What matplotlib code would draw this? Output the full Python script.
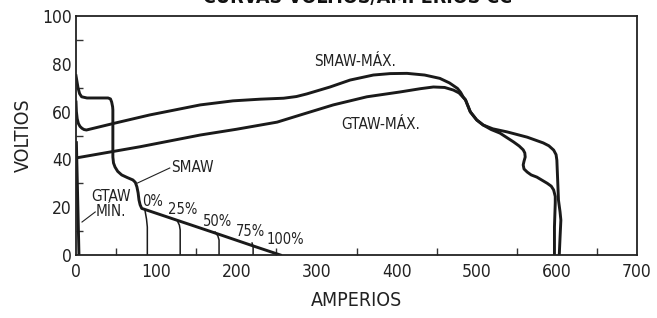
import matplotlib
matplotlib.use("Agg")
import matplotlib.pyplot as plt

plt.rcParams['font.family'] = ['DejaVu Sans']
plt.rcParams['font.stretch'] = 'condensed'

# curva SMAW (minimo): tension en vacio y caida
smaw_a = [0, 1, 2.5, 4.5, 7, 13.7, 40, 43, 44.5, 45.7, 46, 46, 46.8, 48.7, 52, 57, 64, 71, 74, 76, 77.5, 78.6, 80, 82,
          130, 178, 221, 255]
smaw_v = [75, 73, 70, 67.5, 66.2, 65.7, 65.7, 65.3, 64, 62, 60.7, 41, 38.5, 36.8, 35, 33.5, 32.4, 31.4, 30.4, 28.5, 26,
          23, 21, 19.5, 14.1, 8.7, 3.8, 0]

# SMAW maximo
smaw_max_a = [0, 0.5, 1.5, 3, 5, 7.5, 10, 13, 50, 92, 155, 196, 230, 259, 275, 288, 300, 317, 342, 371, 392, 413, 435,
              454, 466, 476, 480, 483, 486, 492, 500, 508, 520, 538, 563, 583, 590, 596, 599, 600, 601, 602, 604, 605,
              604, 603]
smaw_max_v = [64, 60, 57, 55, 53.8, 53, 52.5, 52.3, 55.3, 58.6, 62.8, 64.5, 65.2, 65.6, 66.3, 67.4, 68.6, 70.3, 73.2,
              75.3, 75.9, 76, 75.3, 73.9, 72, 69.7, 68, 66.2, 64.9, 59.9, 56.5, 54.4, 52.8, 51.5, 49.3, 46.9, 45.7, 43.9,
              42, 39.7, 31.4, 23, 18, 14.6, 7.5, 0]

# GTAW maximo
gtaw_max_a = [0, 80, 155, 200, 251, 280, 321, 363, 404, 430, 446, 460, 471, 478, 483, 486, 492, 500, 508, 518, 529, 546,
              553, 558, 560, 560.5, 559, 558, 559, 563, 568, 575, 588, 593, 596, 598, 598, 597, 597]
gtaw_max_v = [40.6, 45.3, 50.2, 52.6, 55.6, 58.6, 62.8, 66.2, 68.2, 69.6, 70.3, 70.1, 69, 67.8, 66, 64.9, 59.9, 56.5,
              54.4, 52.5, 51, 47.3, 45.6, 44, 42.7, 41, 39.2, 37.7, 36, 34.7, 33.5, 32.6, 30, 28.8, 27.2, 24.5, 21.8,
              11.7, 0]

# GTAW minimo
gtaw_min_a = [0.5, 3.7]
gtaw_min_v = [47, 0]

# lineas de ciclo de trabajo
ciclo_a = [[86, 88, 89, 89], [126, 129, 130, 130], [173.5, 177, 178.5, 178.5], [219.7, 221, 221]]
ciclo_v = [[18.8, 15, 11.7, 0], [14.6, 12.5, 10.5, 0], [9.6, 8, 6.3, 0], [5, 3.5, 0]]
ciclo_txt = ['0%', '25%', '50%', '75%', '100%']
ciclo_txt_a = [95, 133, 176.6, 218, 261]
ciclo_txt_v = [22.2, 19.2, 14.2, 10, 6.3]

fig = plt.figure(figsize=(6.57, 3.18), dpi=100)
ax = fig.add_axes([76/657, 1-255/318, 561/657, 239/318])

lw = 2.1
c = '#1a1a1a'
ax.plot(smaw_a, smaw_v, color=c, lw=lw, solid_joinstyle='round')
ax.plot(smaw_max_a, smaw_max_v, color=c, lw=lw, solid_joinstyle='round')
ax.plot(gtaw_max_a, gtaw_max_v, color=c, lw=lw, solid_joinstyle='round')
ax.plot(gtaw_min_a, gtaw_min_v, color=c, lw=lw)
for xa, yv in zip(ciclo_a, ciclo_v):
    ax.plot(xa, yv, color=c, lw=1.1)

for t, xa, yv in zip(ciclo_txt, ciclo_txt_a, ciclo_txt_v):
    ax.text(xa, yv, t, fontsize=10.5, ha='center', va='center', color='#222222')

ax.text(348, 80.8, 'SMAW-MÁX.', fontsize=11, ha='center', va='center', color='#222222')
ax.text(380, 54.4, 'GTAW-MÁX.', fontsize=11, ha='center', va='center', color='#222222')
ax.text(145.5, 36.6, 'SMAW', fontsize=11, ha='center', va='center', color='#222222')
ax.text(43.7, 21.3, 'GTAW\nMÍN.', fontsize=11, ha='center', va='center', color='#222222', linespacing=0.95)
# lineas guia
ax.plot([76, 117], [30, 36.4], color='#222222', lw=0.8)
ax.plot([7.5, 24], [13.8, 18], color='#222222', lw=0.8)

ax.set_xlim(0, 700)
ax.set_ylim(0, 100)
ax.set_xticks(range(0, 701, 100))
ax.set_yticks(range(0, 101, 20))
ax.set_xticks(range(50, 700, 100), minor=True)
ax.set_yticks(range(10, 100, 20), minor=True)
ax.tick_params(which='major', length=0, labelsize=12.5, colors='#222222')
ax.tick_params(axis='x', which='major', pad=6)
ax.tick_params(axis='y', which='major', pad=3)
ax.tick_params(which='minor', direction='in', length=5, width=1, color='#333333')
for s in ax.spines.values():
    s.set_linewidth(1.3)
    s.set_color('#222222')

ax.set_xlabel('AMPERIOS', fontsize=14, color='#222222')
ax.set_ylabel('VOLTIOS', fontsize=14, color='#222222')
ax.xaxis.set_label_coords(0.5, -0.15)
ax.yaxis.set_label_coords(-0.077, 0.5)

fig.text(358/657, 1 - 3/318, 'CURVAS VOLTIOS/AMPERIOS CC', fontsize=14, fontweight='bold',
         ha='center', va='baseline', color='#111111')

plt.savefig('out.png', dpi=100)
